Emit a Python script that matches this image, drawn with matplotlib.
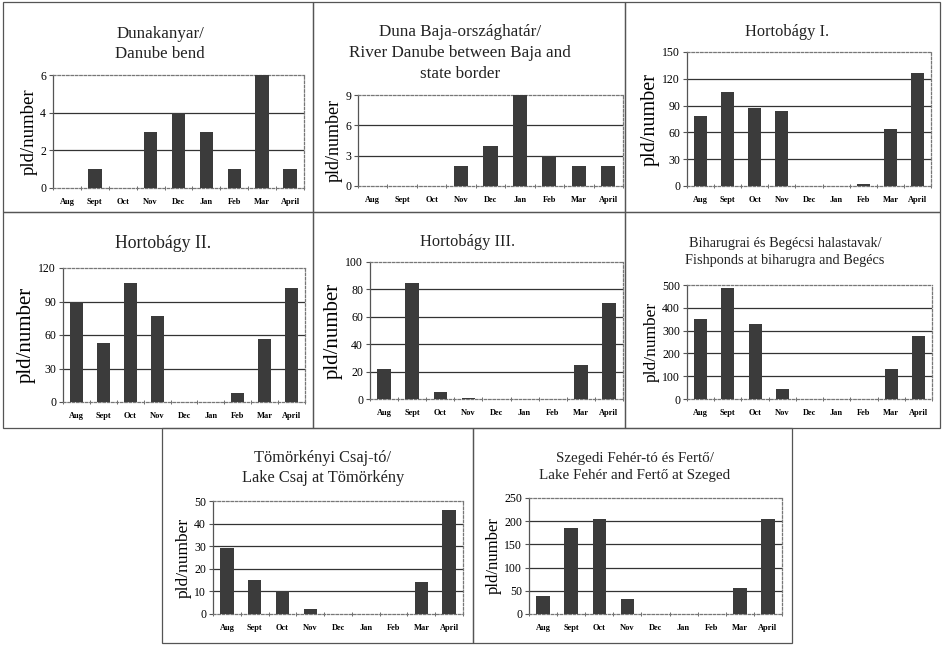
import numpy as np
import matplotlib
matplotlib.use("Agg")
import matplotlib.pyplot as plt
from matplotlib.patches import Rectangle
from matplotlib.ticker import FixedLocator

plt.rcParams['font.family'] = ['Liberation Serif', 'DejaVu Serif']

# adatok
months = ["Aug", "Sept", "Oct", "Nov", "Dec", "Jan", "Feb", "Mar", "April"]

dunakanyar = [0, 1, 0, 3, 4, 3, 1, 6, 1]
duna_baja = [0, 0, 0, 2, 4, 9, 3, 2, 2]
hortobagy_1 = [78, 105, 87, 84, 0, 0, 2, 64, 126]
hortobagy_2 = [90, 53, 107, 77, 0, 0, 8, 56, 102]
hortobagy_3 = [22, 85, 5, 1, 0, 0, 0, 25, 70]
biharugra = [353, 488, 330, 42, 0, 0, 0, 131, 276]
tomorkeny = [29, 15, 10, 2, 0, 0, 0, 14, 46]
szeged = [38, 185, 205, 33, 0, 0, 1, 55, 205]

titles = [
    "Dunakanyar/\nDanube bend",
    "Duna Baja-országhatár/\nRiver Danube between Baja and\nstate border",
    "Hortobágy I.",
    "Hortobágy II.",
    "Hortobágy III.",
    "Biharugrai és Begécsi halastavak/\nFishponds at biharugra and Begécs",
    "Tömörkényi Csaj-tó/\nLake Csaj at Tömörkény",
    "Szegedi Fehér-tó és Fertő/\nLake Fehér and Fertő at Szeged",
]
series = [dunakanyar, duna_baja, hortobagy_1, hortobagy_2, hortobagy_3,
          biharugra, tomorkeny, szeged]
ymax = [6, 9, 150, 120, 100, 500, 50, 250]
ystep = [2, 3, 30, 30, 20, 100, 10, 50]

# elrendezés pixelben (bal, felső, jobb, alsó)
W, H = 945, 646
axes_px = [(53, 75, 304, 188), (358, 95, 623, 186), (687, 52, 931, 186),
           (63, 268, 305, 402), (370, 262, 623, 399), (687, 285, 932, 399),
           (213, 501, 463, 614), (529, 498, 782, 614)]
title_px = [(160, 44, 12.2), (460, 53, 12.3), (787, 32, 11.8),
            (163, 243, 12.8), (468, 242, 11.8), (785, 252, 10.3),
            (323, 468, 11.8), (635, 467, 10.8)]
title_spacing = [1.4, 1.4, 1.3, 1.3, 1.3, 1.45, 1.4, 1.45]
ylabel_size = [13.5, 13, 14.5, 15, 15, 12.5, 12.5, 12]
boxes_px = [(3, 2, 313, 212), (313, 2, 625, 212), (625, 2, 940, 212),
            (3, 212, 313, 428), (313, 212, 625, 428), (625, 212, 940, 428),
            (162, 428, 473, 643), (473, 428, 792, 643)]

fig = plt.figure(figsize=(W / 100, H / 100), dpi=100)
fig.patch.set_facecolor("white")

for (l, t, r, b) in boxes_px:
    fig.add_artist(Rectangle((l / W, 1 - b / H), (r - l) / W, (b - t) / H,
                             transform=fig.transFigure, fill=False,
                             edgecolor="#555555", linewidth=0.9))

x = np.arange(len(months))
for i in range(8):
    l, t, r, b = axes_px[i]
    ax = fig.add_axes([l / W, 1 - b / H, (r - l) / W, (b - t) / H])
    ax.bar(x, series[i], width=0.48, color="#3b3b3b", zorder=3)
    ax.set_xlim(-0.5, len(months) - 0.5)
    ax.set_ylim(0, ymax[i])
    yt = np.arange(0, ymax[i] + ystep[i] / 2, ystep[i])
    ax.set_yticks(yt)
    ax.set_yticklabels([str(int(v)) for v in yt], fontsize=8.5)
    for v in yt[1:-1]:
        ax.axhline(v, color="#333333", linewidth=0.9, zorder=1)
    ax.set_xticks(x)
    ax.set_xticklabels(months, fontsize=6, fontweight="bold")
    ax.xaxis.set_minor_locator(FixedLocator(np.arange(-0.5, len(months), 1.0)))
    ax.tick_params(axis="x", which="major", length=0, pad=7)
    ax.tick_params(axis="x", which="minor", length=3, direction="inout",
                   color="#555555")
    ax.tick_params(axis="y", length=3, direction="out", pad=2, color="#555555")
    for s in ["top", "right", "bottom"]:
        ax.spines[s].set_linestyle((0, (2, 1.5)))
        ax.spines[s].set_color("#777777")
        ax.spines[s].set_linewidth(0.9)
    ax.spines["left"].set_color("#555555")
    ax.spines["left"].set_linewidth(0.9)
    ax.set_ylabel("pld/number", fontsize=ylabel_size[i], labelpad=2)
    tx, ty, ts = title_px[i]
    fig.text(tx / W, 1 - ty / H, titles[i], ha="center", va="center",
             fontsize=ts, linespacing=title_spacing[i], color="#222222")

fig.savefig("out.png", dpi=100)
